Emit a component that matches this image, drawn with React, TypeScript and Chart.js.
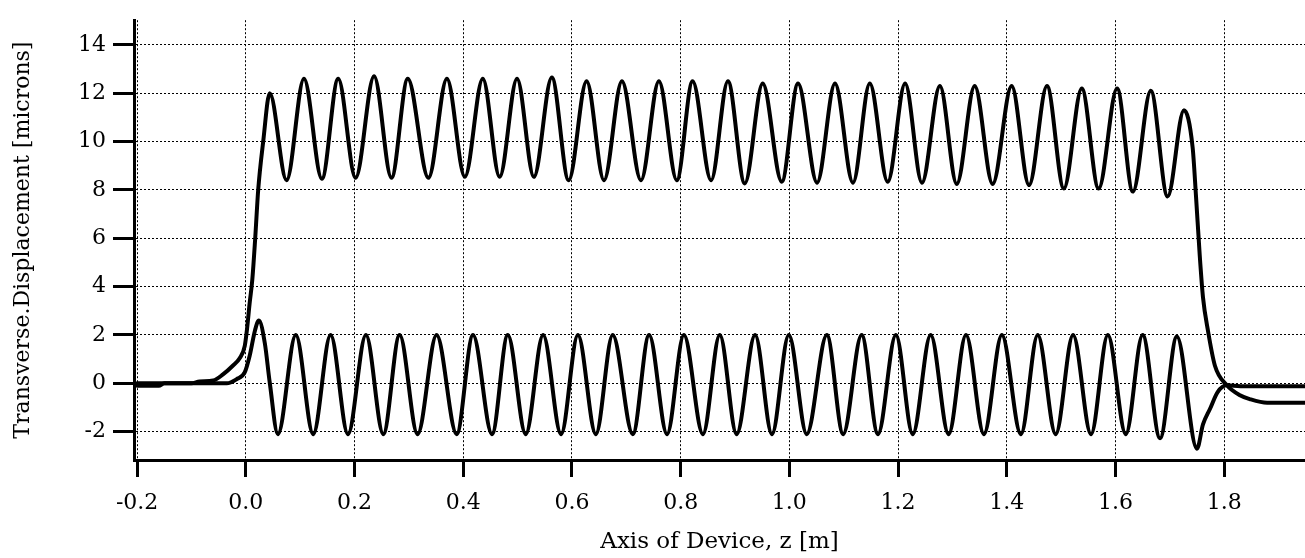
import React, { useEffect, useRef } from "react";
import { Chart, registerables } from "chart.js";

Chart.register(...registerables);

// Axis ticks
const X_TICKS = [-0.2, 0.0, 0.2, 0.4, 0.6, 0.8, 1.0, 1.2, 1.4, 1.6, 1.8];
const X_TICK_LABELS = ["-0.2", "0.0", "0.2", "0.4", "0.6", "0.8", "1.0", "1.2", "1.4", "1.6", "1.8"];
const Y_TICKS = [-2, 0, 2, 4, 6, 8, 10, 12, 14];
const Y_TICK_LABELS = ["-2", "0", "2", "4", "6", "8", "10", "12", "14"];

const X_TITLE = "Axis of Device, z [m]";
const Y_TITLE = "Transverse.Displacement [microns]";

// Upper trace: z [m]
const UPPER_Z = [
  -0.2, -0.1, -0.085, -0.06, -0.042, -0.024, -0.011, -0.002, 0.002, 0.007, 0.012, 0.0173, 0.0228, 0.032, 0.044,
  0.075, 0.107, 0.14, 0.17, 0.202, 0.236, 0.268, 0.298, 0.336, 0.37,
  0.403, 0.436, 0.467, 0.499, 0.53, 0.563, 0.594, 0.627, 0.659, 0.692,
  0.727, 0.76, 0.793, 0.822, 0.856, 0.887, 0.918, 0.951, 0.986, 1.016,
  1.051, 1.084, 1.117, 1.148, 1.181, 1.213, 1.244, 1.277, 1.308, 1.341,
  1.374, 1.409, 1.441, 1.474, 1.505, 1.538, 1.569, 1.603, 1.632, 1.665,
  1.696, 1.726, 1.742, 1.748, 1.755, 1.761, 1.77, 1.783, 1.805, 1.829, 1.847, 1.879, 1.95,
];
// Upper trace: displacement [microns]
const UPPER_V = [
  0.0, 0.0, 0.08, 0.12, 0.37, 0.73, 1.05, 1.54, 2.2, 3.3, 4.3, 6.0, 8.0, 10.0, 12.0,
  8.4, 12.6, 8.46, 12.6, 8.5, 12.7, 8.5, 12.6, 8.5, 12.6,
  8.54, 12.6, 8.54, 12.6, 8.54, 12.65, 8.4, 12.5, 8.4, 12.5,
  8.4, 12.5, 8.4, 12.5, 8.4, 12.5, 8.27, 12.4, 8.34, 12.4,
  8.3, 12.4, 8.3, 12.4, 8.34, 12.4, 8.3, 12.3, 8.25, 12.3,
  8.25, 12.3, 8.2, 12.3, 8.06, 12.2, 8.06, 12.2, 7.93, 12.1,
  7.73, 11.3, 9.75, 7.8, 5.3, 3.56, 2.2, 0.73, -0.08, -0.49, -0.65, -0.8, -0.8,
];

// Lower trace: z [m]
const LOWER_Z = [
  -0.2, -0.16, -0.15, -0.035, -0.017, -0.002, 0.007, 0.017, 0.024, 0.035, 0.044, 0.059,
  0.092, 0.124, 0.156, 0.188, 0.221, 0.253, 0.283, 0.316, 0.351, 0.388,
  0.418, 0.453, 0.482, 0.515, 0.547, 0.58, 0.611, 0.644, 0.675, 0.712,
  0.742, 0.775, 0.806, 0.841, 0.872, 0.903, 0.937, 0.968, 0.999, 1.032,
  1.069, 1.099, 1.133, 1.163, 1.196, 1.227, 1.26, 1.293, 1.325, 1.358,
  1.391, 1.426, 1.457, 1.49, 1.522, 1.555, 1.586, 1.619, 1.65, 1.682,
  1.713, 1.75, 1.761, 1.774, 1.788, 1.805, 1.83, 1.95,
];
// Lower trace: displacement [microns]
const LOWER_V = [
  -0.1, -0.1, 0.0, 0.0, 0.17, 0.45, 1.13, 2.2, 2.6, 1.66, 0.04, -2.1,
  2.0, -2.1, 2.0, -2.1, 2.0, -2.1, 2.0, -2.1, 2.0, -2.1,
  2.0, -2.1, 2.0, -2.1, 2.0, -2.1, 2.0, -2.1, 2.0, -2.1,
  2.0, -2.1, 2.0, -2.1, 2.0, -2.1, 2.0, -2.1, 2.0, -2.1,
  2.0, -2.1, 2.0, -2.1, 2.0, -2.1, 2.0, -2.1, 2.0, -2.1,
  2.0, -2.1, 2.0, -2.1, 2.0, -2.1, 2.0, -2.1, 2.0, -2.27,
  1.94, -2.7, -1.7, -1.05, -0.36, -0.08, -0.12, -0.12,
];

const FONT = "DejaVu Serif";

export default function App() {
  const canvasRef = useRef<HTMLCanvasElement | null>(null);

  useEffect(() => {
    document.body.style.margin = "0";
    const canvas = canvasRef.current;
    if (!canvas) return;

    const toPoints = (zs: number[], vs: number[]) => zs.map((z, i) => ({ x: z, y: vs[i] }));

    const lineStyle = {
      borderColor: "#000",
      borderWidth: 4,
      pointRadius: 0,
      fill: false,
      tension: 0.4,
      cubicInterpolationMode: "monotone" as const,
      borderJoinStyle: "round" as const,
      borderCapStyle: "round" as const,
    };

    const chart = new Chart(canvas, {
      type: "line",
      data: {
        datasets: [
          { label: "Upper", data: toPoints(UPPER_Z, UPPER_V), ...lineStyle },
          { label: "Lower", data: toPoints(LOWER_Z, LOWER_V), ...lineStyle },
        ],
      },
      options: {
        animation: false,
        responsive: true,
        maintainAspectRatio: false,
        layout: { padding: { top: 9, left: 0, right: 0, bottom: 0 } },
        plugins: {
          legend: { display: false },
          tooltip: { enabled: false },
        },
        scales: {
          x: {
            type: "linear",
            min: -0.2057,
            max: 1.9487,
            afterBuildTicks: (scale: any) => {
              scale.ticks = X_TICKS.map((v) => ({ value: v }));
            },
            afterFit: (scale: any) => {
              scale.height = 98;
            },
            ticks: {
              autoSkip: false,
              maxRotation: 0,
              color: "#000",
              padding: 13,
              font: { family: FONT, size: 22 },
              callback: (_v: any, i: number) => X_TICK_LABELS[i],
            },
            grid: {
              color: "#000",
              lineWidth: 1,
              tickLength: 17,
              tickWidth: 3,
              tickColor: "#000",
              tickBorderDash: [],
            },
            border: { display: true, color: "#000", width: 3, dash: [2, 2] },
            title: {
              display: true,
              text: X_TITLE,
              color: "#000",
              font: { family: FONT, size: 23 },
              padding: { top: 0, bottom: 2 },
            },
          },
          y: {
            type: "linear",
            min: -3.17,
            max: 15.02,
            afterBuildTicks: (scale: any) => {
              scale.ticks = Y_TICKS.map((v) => ({ value: v }));
            },
            afterFit: (scale: any) => {
              scale.width = 134;
            },
            ticks: {
              autoSkip: false,
              color: "#000",
              padding: 7,
              font: { family: FONT, size: 22 },
              callback: (_v: any, i: number) => Y_TICK_LABELS[i],
            },
            grid: {
              color: "#000",
              lineWidth: 1,
              tickLength: 21,
              tickWidth: 3,
              tickColor: "#000",
              tickBorderDash: [],
            },
            border: { display: true, color: "#000", width: 3, dash: [2, 2] },
            title: {
              display: true,
              text: Y_TITLE,
              color: "#000",
              font: { family: FONT, size: 22 },
              padding: { top: 10, bottom: 0 },
            },
          },
        },
      },
    });

    return () => {
      chart.destroy();
    };
  }, []);

  return (
    <div style={{ position: "absolute", left: 0, top: 0, width: 1305, height: 558, background: "#fff" }}>
      <canvas ref={canvasRef} />
    </div>
  );
}
